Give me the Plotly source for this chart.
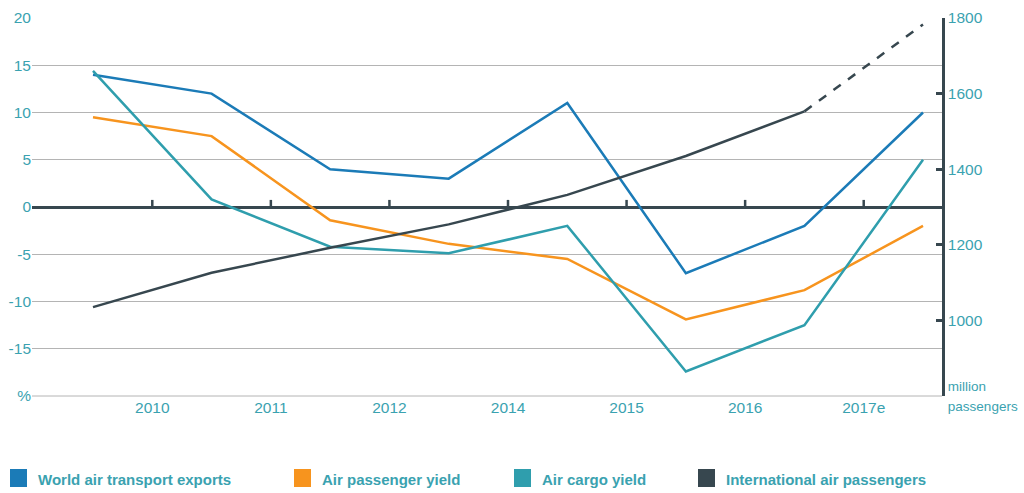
import plotly.graph_objects as go

# ---- data -------------------------------------------------------------
periods = [0, 1, 2, 3, 4, 5, 6, 7]
year_labels = ["2010", "2011", "2012", "2014", "2015", "2016", "2017e"]
year_positions = [0.5, 1.5, 2.5, 3.5, 4.5, 5.5, 6.5]

exports = [14, 12, 4, 3, 11, -7, -2, 10]                      # % change
passenger_yield = [9.5, 7.5, -1.4, -3.9, -5.5, -11.9, -8.8, -2]  # % change
cargo_yield = [14.4, 0.8, -4.2, -4.9, -2, -17.4, -12.5, 5]       # % change
intl_passengers = [1035, 1126, 1192, 1254, 1332, 1435, 1553, 1783]  # million
forecast_from = 6  # last actual point of passenger series, dashed afterwards

pct_ticks = [-20, -15, -10, -5, 0, 5, 10, 15, 20]
pct_labels = ["%", "-15", "-10", "-5", "0", "5", "10", "15", "20"]
pax_ticks = [800, 1000, 1200, 1400, 1600, 1800]
pax_labels = ["<span style='font-size:13.5px'>million<br>passengers</span>",
              "1000", "1200", "1400", "1600", "1800"]

series_names = ["World air transport exports", "Air passenger yield",
                "Air cargo yield", "International air passengers"]

# ---- styling ----------------------------------------------------------
BLUE = "#1b7bb7"
ORANGE = "#f7941e"
TEAL = "#2f9ead"
DARK = "#37474f"
TEXT = "#3aa2b0"
GRID = "#b4b4b4"
series_colors = [BLUE, ORANGE, TEAL, DARK]

W, H = 1024, 493
L, R, T, B = 32, 82, 18, 97
PW, PH = W - L - R, H - T - B


def px_x(px):
    return (px - L) / PW


def px_y(py):
    return (H - B - py) / PH


fig = go.Figure()

for vals, name, col in zip([exports, passenger_yield, cargo_yield],
                           series_names[:3], series_colors[:3]):
    fig.add_trace(go.Scatter(x=periods, y=vals, mode="lines", name=name,
                             line=dict(color=col, width=2.5),
                             showlegend=False))

fig.add_trace(go.Scatter(x=periods[:forecast_from + 1],
                         y=intl_passengers[:forecast_from + 1],
                         mode="lines", name=series_names[3], yaxis="y2",
                         line=dict(color=DARK, width=2.5), showlegend=False))
fig.add_trace(go.Scatter(x=periods[forecast_from:],
                         y=intl_passengers[forecast_from:],
                         mode="lines", name=series_names[3], yaxis="y2",
                         line=dict(color=DARK, width=2.5, dash="dash"),
                         showlegend=False))

# bottom gridline sits on the lower edge of the plot area
fig.add_shape(type="line", xref="paper", yref="paper", x0=0, x1=1, y0=0, y1=0,
              line=dict(color=GRID, width=1), layer="below")

# small upward ticks on the zero line at each year label
for xp in year_positions:
    fig.add_shape(type="line", xref="x", yref="y", x0=xp, x1=xp, y0=0, y1=0.75,
                  line=dict(color=DARK, width=2.5))

# legend: coloured squares with labels underneath the chart
legend_sq_px = [10, 294, 514, 698]
for name, col, sx in zip(series_names, series_colors, legend_sq_px):
    fig.add_shape(type="rect", xref="paper", yref="paper",
                  x0=px_x(sx), x1=px_x(sx + 17), y0=px_y(487), y1=px_y(469),
                  fillcolor=col, line=dict(width=0))
    fig.add_annotation(xref="paper", yref="paper", x=px_x(sx + 26), y=px_y(479),
                       xanchor="left", yanchor="middle", showarrow=False,
                       text=name,
                       font=dict(family="Arial", size=15, color=TEXT,
                                 weight="bold"))

x0 = periods[0]
span = (periods[-1] - periods[0])
unit = (923 - 93) / span
fig.update_layout(
    width=W, height=H,
    margin=dict(l=L, r=R, t=T, b=B, pad=0, autoexpand=False),
    paper_bgcolor="white", plot_bgcolor="white",
    font=dict(family="Arial", size=15, color=TEXT),
    xaxis=dict(range=[x0 - (93 - L) / unit, x0 + (L + PW - 93) / unit],
               tickvals=year_positions, ticktext=year_labels,
               showgrid=False, zeroline=False, showline=False, ticks="",
               automargin=False, tickfont=dict(size=15.5, color=TEXT)),
    yaxis=dict(range=[-20, 20], tickvals=pct_ticks, ticktext=pct_labels,
               showgrid=True, gridcolor=GRID, gridwidth=1,
               zeroline=True, zerolinecolor=DARK, zerolinewidth=2.5,
               showline=False, ticks="", automargin=False,
               tickfont=dict(size=15.5, color=TEXT)),
    yaxis2=dict(range=[800, 1800], overlaying="y", side="right",
                tickvals=pax_ticks, ticktext=pax_labels,
                showgrid=False, zeroline=False, automargin=False,
                showline=True, linecolor=DARK, linewidth=2.5,
                ticks="inside", ticklen=6, tickwidth=2.5, tickcolor=DARK,
                tickfont=dict(size=15.5, color=TEXT)),
    showlegend=False,
)

fig.write_html("out.html")
